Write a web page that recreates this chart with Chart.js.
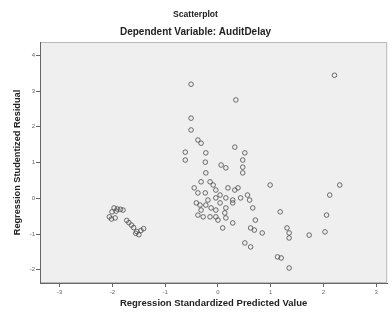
<!DOCTYPE html>
<html>
<head>
<meta charset="utf-8">
<script src="https://cdn.jsdelivr.net/npm/chart.js@4.4.0/dist/chart.umd.min.js"></script>
<style>
  html, body { margin: 0; padding: 0; background: #fff; }
  #wrap { width: 392px; height: 313px; }
</style>
</head>
<body>
<div id="wrap"><canvas id="container" width="392" height="313"></canvas></div>
<script>
// standardized predicted value / studentized residual
const predicted = [
  -1.97, -1.91, -1.85, -1.80, -2.01, -1.93, -2.06, -2.02, -1.95, -1.73,
  -1.69, -1.64, -1.60, -1.54, -1.50, -1.46, -1.41, -1.56,
  -0.51, 0.34, 2.21, -0.51, -0.51, -0.38, -0.32, -0.62, -0.62, -0.23,
  -0.24, 0.32, 0.51, 0.47, 0.47, 0.47, 0.06, 0.15, -0.23, -0.32,
  -0.15, -0.09, -0.04, 0.19, 0.38, 0.99, 2.31, -0.38, -0.24, 0.04,
  0.32, 0.43, 0.56, 0.60, -0.19, -0.04, 0.15, 0.28, -0.34, -0.23,
  0.04, 0.28, 0.15, -0.04, -0.38, -0.28, -0.15, -0.04, 0.13, 0.66,
  1.18, 0.00, 0.15, 0.28, 0.09, 0.71, 0.62, 0.69, 0.84, 1.31,
  1.35, 1.35, 0.51, 0.62, 1.13, 1.20, 1.35, 1.73, 2.03, 2.06,
  2.12, -0.32, -0.13, -0.45, -0.41
];
const residual = [
  -0.27, -0.30, -0.31, -0.33, -0.38, -0.36, -0.52, -0.58, -0.55, -0.62,
  -0.68, -0.75, -0.82, -0.93, -1.02, -0.90, -0.85, -0.98,
  3.19, 2.75, 3.44, 2.24, 1.91, 1.63, 1.54, 1.29, 1.07, 1.27,
  1.01, 1.43, 1.27, 1.07, 0.87, 0.71, 0.93, 0.85, 0.71, 0.46,
  0.46, 0.37, 0.23, 0.29, 0.29, 0.37, 0.37, 0.15, 0.15, 0.09,
  0.23, 0.01, 0.09, -0.05, -0.05, 0.01, 0.01, -0.05, -0.19, -0.19,
  -0.13, -0.13, -0.27, -0.33, -0.47, -0.52, -0.52, -0.52, -0.41, -0.27,
  -0.38, -0.61, -0.55, -0.69, -0.83, -0.61, -0.83, -0.89, -0.97, -0.83,
  -0.97, -1.11, -1.25, -1.36, -1.64, -1.67, -1.95, -1.03, -0.94, -0.47,
  0.09, -0.33, -0.27, 0.29, -0.13
];
const xTicks = [-3, -2, -1, 0, 1, 2, 3];
const yTicks = [-2, -1, 0, 1, 2, 3, 4];

const points = predicted.map((v, i) => ({ x: v, y: residual[i] }));

// grey plot background + frame
const plotBg = {
  id: "plotBg",
  beforeDraw(chart) {
    const { ctx, chartArea: a } = chart;
    ctx.save();
    ctx.fillStyle = "#efefef";
    ctx.fillRect(a.left, a.top, a.right - a.left, a.bottom - a.top);
    ctx.strokeStyle = "#b8b8b8";
    ctx.lineWidth = 1;
    ctx.strokeRect(a.left + 0.5, a.top + 0.5, a.right - a.left - 1, a.bottom - a.top - 1);
    ctx.restore();
  },
};

const font = "Arial, Liberation Sans";
const ctx = document.getElementById("container");
const myChart = new Chart(ctx, {
  type: "scatter",
  data: {
    datasets: [{
      data: points,
      pointStyle: "circle",
      pointRadius: 2.3,
      pointBorderWidth: 0.8,
      pointBorderColor: "#4a4a4a",
      pointBackgroundColor: "rgba(0,0,0,0)",
    }],
  },
  options: {
    responsive: false,
    animation: false,
    layout: { padding: { top: 0, right: 1, bottom: 0, left: 0 } },
    plugins: {
      legend: { display: false },
      tooltip: { enabled: false },
      title: {
        display: true,
        text: "Scatterplot",
        color: "#222",
        font: { family: font, size: 8.6, weight: "bold", lineHeight: 1.2 },
        padding: { top: 9.8, bottom: 3 },
      },
      subtitle: {
        display: true,
        text: "Dependent Variable: AuditDelay",
        color: "#222",
        font: { family: font, size: 10, weight: "bold", lineHeight: 1.2 },
        padding: { top: 2.9, bottom: 4 },
      },
    },
    scales: {
      x: {
        type: "linear",
        min: -3.375,
        max: 3.21,
        afterBuildTicks: (s) => { s.ticks = xTicks.map((v) => ({ value: v })); },
        afterFit: (s) => { s.height = 30; },
        grid: { drawOnChartArea: false, tickLength: 4, color: "#666" },
        border: { color: "#666" },
        ticks: { color: "#666", padding: 1.5, font: { family: font, size: 6 } },
        title: {
          display: true,
          text: "Regression Standardized Predicted Value",
          color: "#222",
          font: { family: font, size: 9.5, weight: "bold", lineHeight: 1.2 },
          padding: { top: 0, bottom: 4 },
        },
      },
      y: {
        type: "linear",
        min: -2.37,
        max: 4.37,
        afterBuildTicks: (s) => { s.ticks = yTicks.map((v) => ({ value: v })); },
        afterFit: (s) => { s.width = 40; },
        grid: { drawOnChartArea: false, tickLength: 4, color: "#666" },
        border: { color: "#666" },
        ticks: { color: "#666", padding: 1, font: { family: font, size: 6 } },
        title: {
          display: true,
          text: "Regression Studentized Residual",
          color: "#222",
          font: { family: font, size: 9.2, weight: "bold", lineHeight: 1.2 },
          padding: { top: 11.5, bottom: 0 },
        },
      },
    },
  },
  plugins: [plotBg],
});
</script>
</body>
</html>
